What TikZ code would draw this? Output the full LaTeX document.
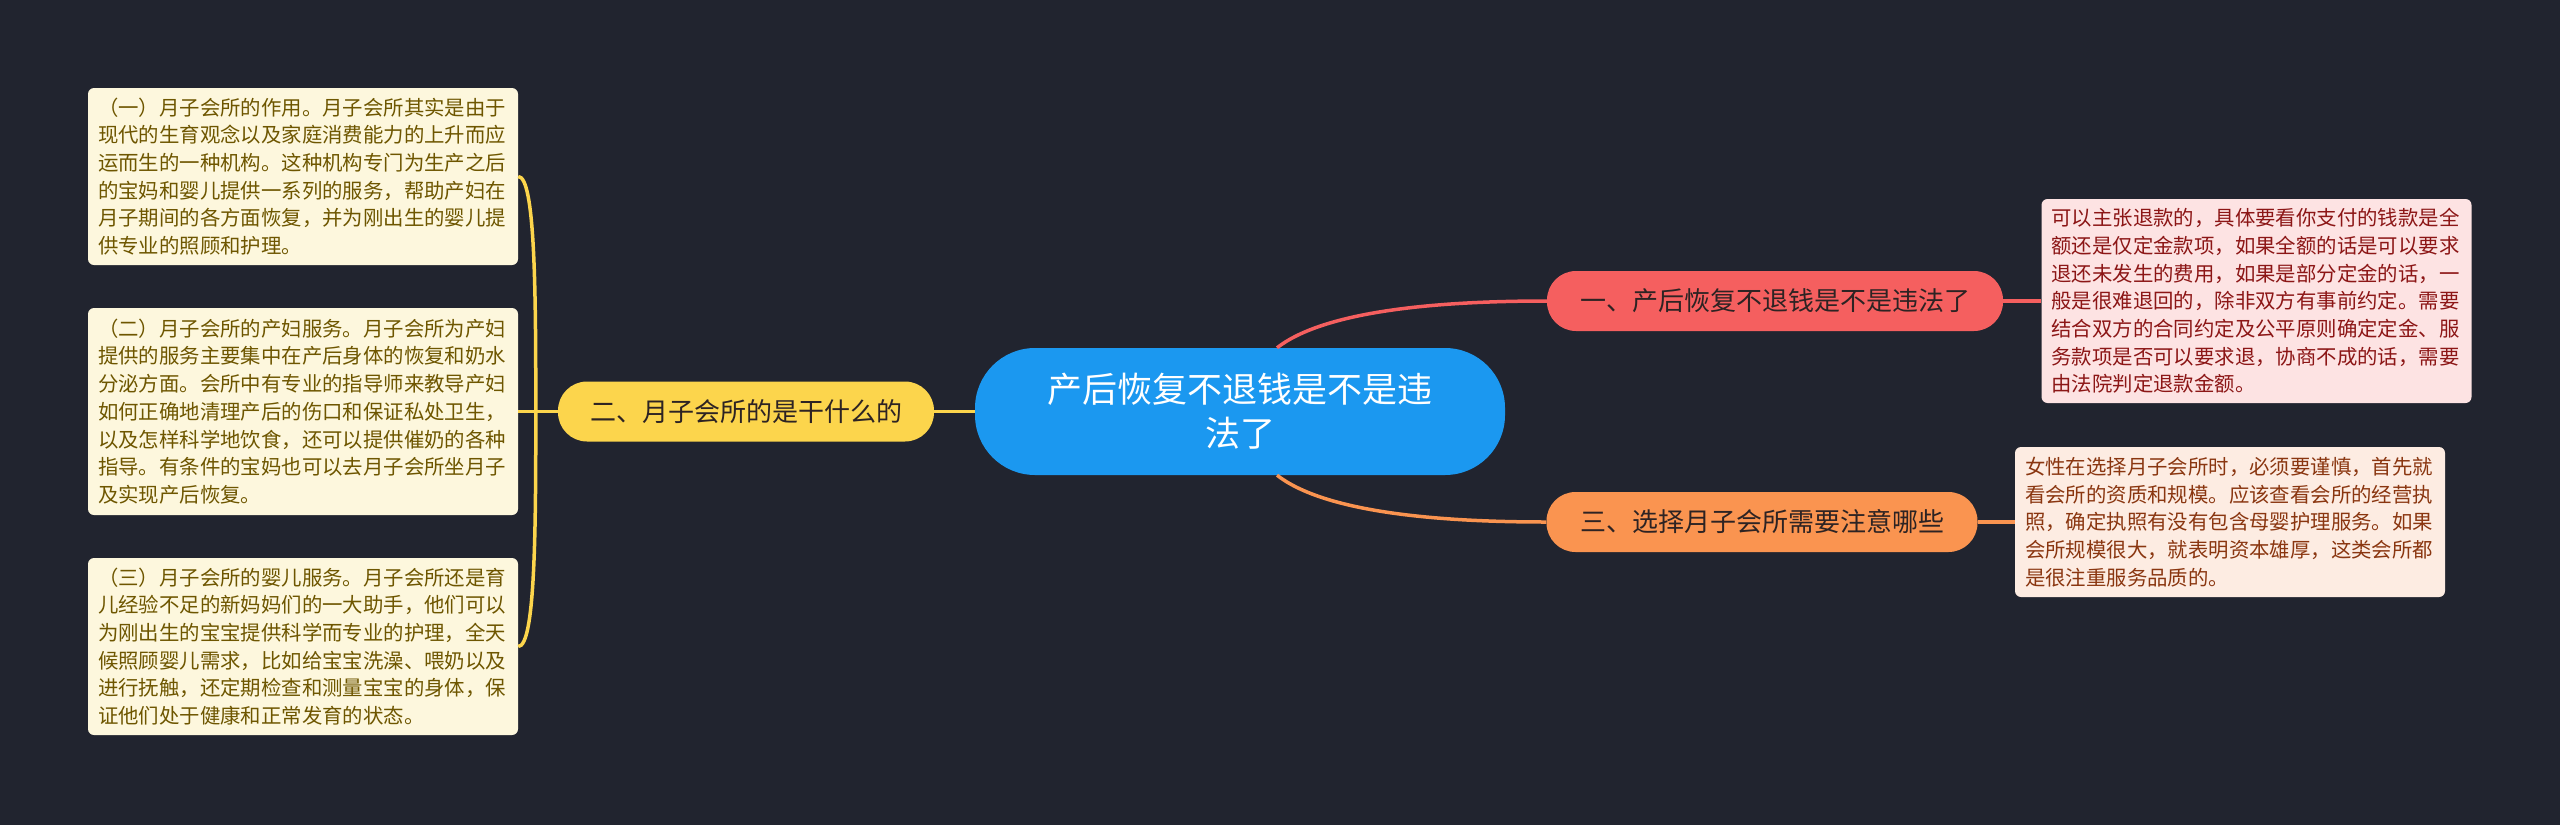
\documentclass[tikz,border=0pt]{standalone}
\usepackage{fontspec}
\newfontfamily\cjk{Noto Sans CJK SC}

\definecolor{bgnavy}{RGB}{33,36,47}
\definecolor{rootblue}{RGB}{27,152,240}
\definecolor{redbr}{RGB}{245,95,95}
\definecolor{orangebr}{RGB}{250,148,80}
\definecolor{yellowbr}{RGB}{252,213,76}
\definecolor{creamleaf}{RGB}{253,247,221}
\definecolor{oliveleaf}{RGB}{110,86,0}
\definecolor{pinkleaf}{RGB}{253,227,227}
\definecolor{pinktext}{RGB}{140,22,22}
\definecolor{peachleaf}{RGB}{253,236,226}
\definecolor{peachtext}{RGB}{138,54,16}
\definecolor{darktext}{RGB}{45,35,35}

\tikzset{
  root/.style={fill=rootblue, text=white, rounded corners=60pt, minimum width=530pt,
    minimum height=127pt, align=center, font=\cjk\fontsize{35}{44}\selectfont},
  branch/.style={rounded corners=29pt, minimum height=60pt, inner xsep=0pt, text=darktext,
    font=\cjk\fontsize{26}{30}\selectfont},
  leaf/.style={rounded corners=6pt, text width=410pt, inner xsep=10pt, inner ysep=0pt,
    align=left, font=\cjk\fontsize{20.4}{27.7}\selectfont},
  link/.style={line width=3.5pt},
}

\begin{document}
\begin{tikzpicture}[x=1pt,y=-1pt]
    % background
    \fill[bgnavy] (0,0) rectangle (2560,825);
    \useasboundingbox (0,0) rectangle (2560,825);

    % root
    \node[root] (cn) at (1240,411.5) {产后恢复不退钱是不是违\\法了};

    % branches
    \node[branch, fill=redbr, minimum width=456pt] (b1) at (1775,301) {一、产后恢复不退钱是不是违法了};
    \node[branch, fill=yellowbr, minimum width=376pt] (b2) at (746,411.5) {二、月子会所的是干什么的};
    \node[branch, fill=orangebr, minimum width=431pt] (b3) at (1762,522) {三、选择月子会所需要注意哪些};

    % left leaves
    \node[leaf, fill=creamleaf, text=oliveleaf, minimum height=177pt] (l1) at (303,176.5) {%
    （一）月子会所的作用。月子会所其实是由于\\
    现代的生育观念以及家庭消费能力的上升而应\\
    运而生的一种机构。这种机构专门为生产之后\\
    的宝妈和婴儿提供一系列的服务，帮助产妇在\\
    月子期间的各方面恢复，并为刚出生的婴儿提\\
    供专业的照顾和护理。};
    \node[leaf, fill=creamleaf, text=oliveleaf, minimum height=207pt] (l2) at (303,411.5) {%
    （二）月子会所的产妇服务。月子会所为产妇\\
    提供的服务主要集中在产后身体的恢复和奶水\\
    分泌方面。会所中有专业的指导师来教导产妇\\
    如何正确地清理产后的伤口和保证私处卫生，\\
    以及怎样科学地饮食，还可以提供催奶的各种\\
    指导。有条件的宝妈也可以去月子会所坐月子\\
    及实现产后恢复。};
    \node[leaf, fill=creamleaf, text=oliveleaf, minimum height=177pt] (l3) at (303,646.5) {%
    （三）月子会所的婴儿服务。月子会所还是育\\
    儿经验不足的新妈妈们的一大助手，他们可以\\
    为刚出生的宝宝提供科学而专业的护理，全天\\
    候照顾婴儿需求，比如给宝宝洗澡、喂奶以及\\
    进行抚触，还定期检查和测量宝宝的身体，保\\
    证他们处于健康和正常发育的状态。};

    % right leaves
    \node[leaf, fill=pinkleaf, text=pinktext, minimum height=204pt] (r1) at (2256.5,301) {%
    可以主张退款的，具体要看你支付的钱款是全\\
    额还是仅定金款项，如果全额的话是可以要求\\
    退还未发生的费用，如果是部分定金的话，一\\
    般是很难退回的，除非双方有事前约定。需要\\
    结合双方的合同约定及公平原则确定定金、服\\
    务款项是否可以要求退，协商不成的话，需要\\
    由法院判定退款金额。};
    \node[leaf, fill=peachleaf, text=peachtext, minimum height=150pt] (r2) at (2230,522) {%
    女性在选择月子会所时，必须要谨慎，首先就\\
    看会所的资质和规模。应该查看会所的经营执\\
    照，确定执照有没有包含母婴护理服务。如果\\
    会所规模很大，就表明资本雄厚，这类会所都\\
    是很注重服务品质的。};

    % links
    \coordinate (yj) at ([xshift=-22pt]b2.west);
    \draw[link, yellowbr] (cn.west) -- (b2.east);
    \draw[link, yellowbr] (b2.west) -- (l2.east);
    \draw[link, yellowbr] (l1.east) .. controls +(17,0) and +(0,-120) .. (yj);
    \draw[link, yellowbr] (l3.east) .. controls +(17,0) and +(0,120) .. (yj);
    \draw[link, redbr] ([xshift=37pt]cn.north) .. controls +(45,-35) and +(-120,0) .. (b1.west);
    \draw[link, orangebr] ([xshift=37pt]cn.south) .. controls +(45,35) and +(-120,0) .. (b3.west);
    \draw[link, redbr] (b1.east) -- (r1.west);
    \draw[link, orangebr] (b3.east) -- (r2.west);
\end{tikzpicture}
\end{document}
